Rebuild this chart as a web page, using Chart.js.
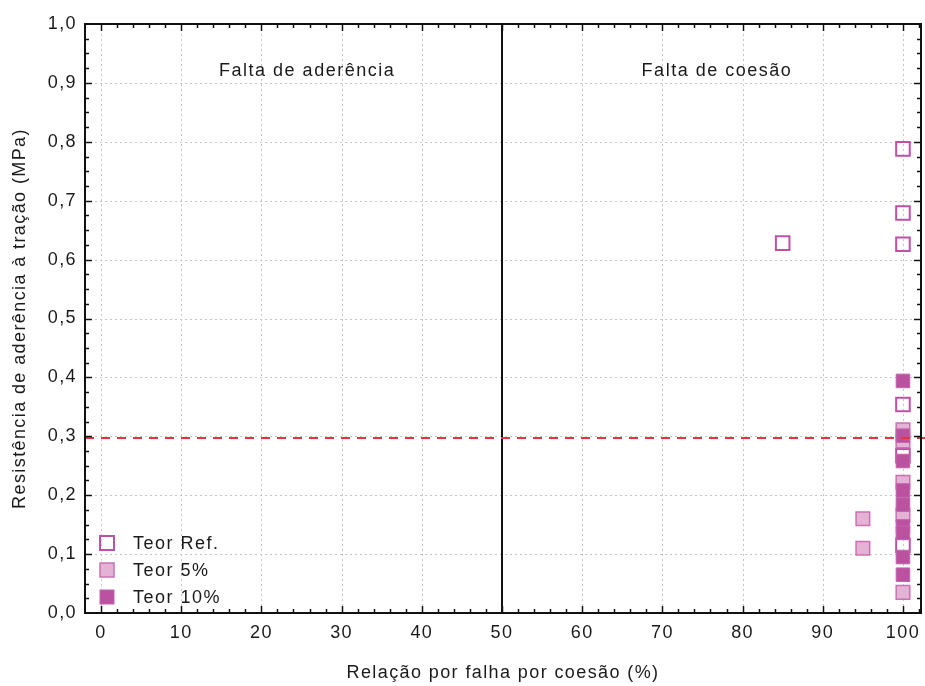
<!DOCTYPE html>
<html>
<head>
<meta charset="utf-8">
<script src="https://cdn.jsdelivr.net/npm/chart.js@4.4.1/dist/chart.umd.min.js"></script>
<style>
  html, body { margin: 0; padding: 0; background: #ffffff; }
  canvas { display: block; }
</style>
</head>
<body>
<canvas id="grafico" width="925" height="686"></canvas>
<script>
// Eixos
const X_TICKS = [0, 10, 20, 30, 40, 50, 60, 70, 80, 90, 100];
const Y_TICKS = [0, 0.1, 0.2, 0.3, 0.4, 0.5, 0.6, 0.7, 0.8, 0.9, 1.0];

// Séries: relação de falha por coesão (%) e resistência de aderência (MPa)
const SERIES = ['Teor Ref.', 'Teor 5%', 'Teor 10%'];
const refX = [85, 100, 100, 100, 100, 100, 100];
const refY = [0.628, 0.788, 0.679, 0.626, 0.354, 0.267, 0.115];
const p5X  = [95, 95, 100, 100, 100, 100, 100];
const p5Y  = [0.160, 0.110, 0.311, 0.292, 0.222, 0.166, 0.035];
const p10X = [100, 100, 100, 100, 100, 100, 100, 100, 100];
const p10Y = [0.394, 0.301, 0.258, 0.208, 0.184, 0.147, 0.136, 0.095, 0.065];

// Linhas de referência
const LIMITE_MPA = 0.297;   // resistência mínima
const DIVISAO = 50;         // fronteira entre os modos de ruptura
const REGIOES = [
  { texto: 'Falta de aderência', x: 25.7, y: 0.92 },
  { texto: 'Falta de coesão',    x: 76.8, y: 0.92 }
];

const FONTE = "'Liberation Sans', Arial, Helvetica, sans-serif";
const COR_TEXTO = '#1a1a1a';
const ESPACO_LETRAS = '1.4px';

const ESTILOS = [
  { bg: 'rgba(255,255,255,0)', borda: 'rgb(190,80,165)', bw: 2 },
  { bg: 'rgb(228,178,212)',    borda: 'rgb(204,112,180)', bw: 1.5 },
  { bg: 'rgb(186,82,160)',     borda: 'rgb(196,100,172)', bw: 1 }
];
const RAIO = 9.6;

const pares = (xs, ys) => xs.map((v, i) => ({ x: v, y: ys[i] }));

function linha(ctx, x1, y1, x2, y2) {
  ctx.beginPath(); ctx.moveTo(x1, y1); ctx.lineTo(x2, y2); ctx.stroke();
}

// espaçamento entre letras em todo o texto do gráfico
const espacamento = {
  id: 'espacamento',
  beforeUpdate(chart) { if ('letterSpacing' in chart.ctx) chart.ctx.letterSpacing = ESPACO_LETRAS; },
  beforeDraw(chart) { if ('letterSpacing' in chart.ctx) chart.ctx.letterSpacing = ESPACO_LETRAS; }
};

const moldura = {
  id: 'moldura',
  beforeDatasetsDraw(chart) {
    const { ctx, chartArea: a, scales: { x, y } } = chart;
    ctx.save();
    // grade pontilhada
    ctx.strokeStyle = '#c6c6c6';
    ctx.lineWidth = 1;
    ctx.setLineDash([2, 3]);
    X_TICKS.forEach(v => {
      if (v === DIVISAO) return;
      const px = Math.round(x.getPixelForValue(v)) + 0.5;
      linha(ctx, px, a.top, px, a.bottom);
    });
    Y_TICKS.forEach(v => {
      if (v <= 0 || v >= 1) return;
      const py = Math.round(y.getPixelForValue(v)) + 0.5;
      linha(ctx, a.left, py, a.right, py);
    });
    ctx.setLineDash([]);
    // divisão vertical em 50 %
    ctx.strokeStyle = '#111111';
    ctx.lineWidth = 2;
    const pd = Math.round(x.getPixelForValue(DIVISAO));
    linha(ctx, pd, a.top, pd, a.bottom);
    ctx.restore();
  },
  afterDatasetsDraw(chart) {
    const { ctx, chartArea: a, scales: { x, y } } = chart;
    ctx.save();
    // linha tracejada do limite
    ctx.strokeStyle = '#e8333a';
    ctx.lineWidth = 2;
    ctx.setLineDash([9, 7]);
    const pl = Math.round(y.getPixelForValue(LIMITE_MPA));
    linha(ctx, a.left, pl, chart.width, pl);
    ctx.setLineDash([]);

    // moldura
    ctx.strokeStyle = '#111111';
    ctx.lineWidth = 2;
    ctx.strokeRect(a.left, a.top, a.right - a.left, a.bottom - a.top);

    // marcas internas dos eixos
    ctx.lineWidth = 1.5;
    for (let i = 1; i < 40; i++) {
      const v = i / 40;
      const len = (i % 4 === 0) ? 7 : 4;
      const py = Math.round(y.getPixelForValue(v)) + 0.5;
      linha(ctx, a.left, py, a.left + len, py);
      linha(ctx, a.right - len, py, a.right, py);
    }
    for (let v = 0; v <= 102; v += 2) {
      const len = (v % 10 === 0) ? 7 : 4;
      const px = Math.round(x.getPixelForValue(v)) + 0.5;
      linha(ctx, px, a.bottom - len, px, a.bottom);
      linha(ctx, px, a.top, px, a.top + len);
    }

    // rótulos das regiões
    ctx.fillStyle = COR_TEXTO;
    ctx.font = '18px ' + FONTE;
    if ('letterSpacing' in ctx) ctx.letterSpacing = '1.5px';
    ctx.textAlign = 'center';
    ctx.textBaseline = 'middle';
    REGIOES.forEach(r => {
      ctx.fillText(r.texto, x.getPixelForValue(r.x), y.getPixelForValue(r.y));
    });

    // legenda
    ctx.textAlign = 'left';
    const base = a.bottom - 70;
    SERIES.forEach((nome, i) => {
      const e = ESTILOS[i];
      const cy = base + i * 27;
      const cx = a.left + 22;
      const s = 7;
      ctx.fillStyle = e.bg;
      ctx.fillRect(cx - s, cy - s, 2 * s, 2 * s);
      ctx.strokeStyle = e.borda;
      ctx.lineWidth = e.bw;
      ctx.strokeRect(cx - s, cy - s, 2 * s, 2 * s);
      ctx.fillStyle = COR_TEXTO;
      ctx.fillText(nome, a.left + 48, cy + 1);
    });
    ctx.restore();
  }
};

const conjuntos = [
  [refX, refY], [p5X, p5Y], [p10X, p10Y]
].map((d, i) => ({
  label: SERIES[i],
  data: pares(d[0], d[1]),
  backgroundColor: ESTILOS[i].bg,
  borderColor: ESTILOS[i].borda,
  borderWidth: ESTILOS[i].bw,
  pointStyle: 'rect',
  pointRadius: RAIO,
  pointHoverRadius: RAIO,
  order: 2 - i
}));

new Chart(document.getElementById('grafico'), {
  type: 'scatter',
  data: { datasets: conjuntos },
  options: {
    responsive: false,
    animation: false,
    devicePixelRatio: 1,
    layout: { autoPadding: false, padding: { top: 24, right: 4, left: 0, bottom: 0 } },
    plugins: {
      legend: { display: false },
      tooltip: { enabled: false }
    },
    scales: {
      x: {
        type: 'linear',
        min: -2,
        max: 102.25,
        afterBuildTicks: s => { s.ticks = X_TICKS.map(v => ({ value: v })); },
        afterFit: s => { s.height = 73; s.paddingLeft = 0; s.paddingRight = 0; },
        grid: { display: false, drawTicks: false },
        border: { display: false },
        ticks: {
          color: COR_TEXTO,
          font: { family: FONTE, size: 18 },
          padding: 9,
          maxRotation: 0,
          autoSkip: false
        },
        title: {
          display: true,
          text: 'Relação por falha por coesão (%)',
          color: COR_TEXTO,
          font: { family: FONTE, size: 18 },
          padding: { top: 0, bottom: 2 }
        }
      },
      y: {
        type: 'linear',
        min: 0,
        max: 1,
        afterBuildTicks: s => { s.ticks = Y_TICKS.map(v => ({ value: v })); },
        afterFit: s => { s.width = 85; s.paddingTop = 0; s.paddingBottom = 0; },
        grid: { display: false, drawTicks: false },
        border: { display: false },
        ticks: {
          color: COR_TEXTO,
          font: { family: FONTE, size: 18 },
          padding: 8,
          autoSkip: false,
          callback: v => v.toFixed(1).replace('.', ',')
        },
        title: {
          display: true,
          text: 'Resistência de aderência à tração (MPa)',
          color: COR_TEXTO,
          font: { family: FONTE, size: 18 },
          padding: { top: 9, bottom: 0 }
        }
      }
    }
  },
  plugins: [espacamento, moldura]
});
</script>
</body>
</html>
